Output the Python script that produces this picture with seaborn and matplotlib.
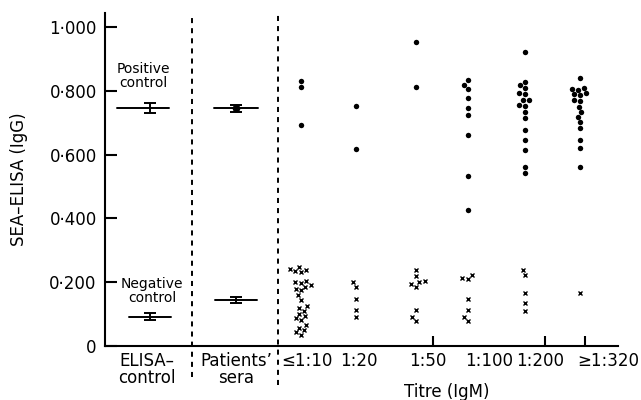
import matplotlib
matplotlib.use("Agg")
import matplotlib.pyplot as plt
import pandas as pd
import seaborn as sns

# titre groups (IgM) and their SEA-ELISA (IgG) values
titres = ["\u22641:10", "1:20", "1:50", "1:100", "1:200", "\u22651:320"]

positive_sera = {
    "\u22641:10": [0.830, 0.812, 0.692],
    "1:20": [0.752, 0.619],
    "1:50": [0.952, 0.811],
    "1:100": [0.833, 0.818, 0.805, 0.776, 0.745, 0.725, 0.662, 0.532, 0.426],
    "1:200": [0.923, 0.829, 0.818, 0.808, 0.792, 0.790, 0.771, 0.770, 0.755,
              0.754, 0.734, 0.714, 0.677, 0.646, 0.614, 0.562, 0.541],
    "\u22651:320": [0.839, 0.808, 0.806, 0.804, 0.792, 0.790, 0.788, 0.771, 0.769,
                    0.750, 0.734, 0.719, 0.703, 0.682, 0.646, 0.620, 0.562],
}
negative_sera = {
    "\u22641:10": [0.248, 0.242, 0.238, 0.235, 0.232, 0.205, 0.200, 0.196, 0.190,
                   0.186, 0.180, 0.175, 0.160, 0.145, 0.125, 0.118, 0.110, 0.100,
                   0.093, 0.087, 0.080, 0.066, 0.058, 0.050, 0.044, 0.036],
    "1:20": [0.200, 0.186, 0.146, 0.113, 0.090],
    "1:50": [0.238, 0.220, 0.205, 0.200, 0.195, 0.186, 0.113, 0.090, 0.078],
    "1:100": [0.222, 0.212, 0.209, 0.146, 0.113, 0.090, 0.078],
    "1:200": [0.238, 0.222, 0.166, 0.134, 0.110],
    "\u22651:320": [0.165],
}

# control means and errors
control_names = ["ELISA\u2013\ncontrol", "Patients\u2019\nsera"]
control_pos_mean = [0.745, 0.745]
control_pos_err = [0.016, 0.012]
control_neg_mean = [0.092, 0.145]
control_neg_err = [0.010, 0.009]

y_ticks = [0, 0.2, 0.4, 0.6, 0.8, 1.0]
y_tick_labels = ["0", "0\u00b7200", "0\u00b7400", "0\u00b7600", "0\u00b7800", "1\u00b7000"]

# layout (x axis in pixel-like units)
column_x = [301, 356, 416, 468, 525, 580]
label_x = [307, 359, 428, 489, 540, 608]
titre_tick_x = [359, 433, 489, 545, 585]
control_x = [150, 236]
separator_x = [192, 278]

rows = []
for name, xpos in zip(titres, column_x):
    for v in positive_sera[name]:
        rows.append({"x": xpos, "value": v, "kind": "positive"})
    for v in negative_sera[name]:
        rows.append({"x": xpos, "value": v, "kind": "negative"})
df = pd.DataFrame(rows)

sns.set_style("ticks")
plt.rcParams["font.family"] = ["DejaVu Sans"]
plt.rcParams["text.color"] = "black"
plt.rcParams["axes.labelcolor"] = "black"

fig = plt.figure(figsize=(6.41, 4.0), dpi=100)
ax = fig.add_axes([105 / 641, 1 - 346 / 400, 513 / 641, 333.3 / 400])

sns.swarmplot(data=df[df.kind == "positive"], x="x", y="value", native_scale=True,
              orient="x", color="black", size=3.9, linewidth=0, ax=ax)
sns.swarmplot(data=df[df.kind == "negative"], x="x", y="value", native_scale=True,
              orient="x", color="black", marker="x", size=2.9, linewidth=1.0, ax=ax)

# control means with error bars
for cx, m, e, half in zip(control_x, control_pos_mean, control_pos_err, [26, 22]):
    shift = -7 if cx == control_x[0] else 0
    ax.plot([cx + shift - half, cx + shift + half], [m, m], color="black", lw=1.4)
    ax.errorbar(cx, m, yerr=e, fmt="none", ecolor="black", elinewidth=1.4,
                capsize=4, capthick=1.4)
ax.plot(control_x[1], control_pos_mean[1], "o", color="black", ms=4.5)
for cx, m, e in zip(control_x, control_neg_mean, control_neg_err):
    ax.plot([cx - 21, cx + 21], [m, m], color="black", lw=1.4)
    ax.errorbar(cx, m, yerr=e, fmt="none", ecolor="black", elinewidth=1.4,
                capsize=4, capthick=1.4)

ax.text(143, 0.845, "Positive\ncontrol", ha="center", va="center", fontsize=10,
        linespacing=1.0, color="black")
ax.text(152, 0.172, "Negative\ncontrol", ha="center", va="center", fontsize=10,
        linespacing=1.0, color="black")

# dashed separators running below the axis
for sx, low in zip(separator_x, [-0.097, -0.122]):
    ax.plot([sx, sx], [low, 1.045], color="black", lw=1.4, dashes=(2.6, 2.6),
            clip_on=False)

ax.set_xlim(105, 618)
ax.set_ylim(0, 1.045)
sns.despine(ax=ax)
for sp in ["left", "bottom"]:
    ax.spines[sp].set_linewidth(1.5)
    ax.spines[sp].set_color("black")

ax.set_yticks(y_ticks)
ax.set_yticklabels(y_tick_labels)
ax.tick_params(axis="y", direction="in", length=8.5, width=1.5, labelsize=12,
               pad=6, colors="black")
ax.set_xticks([147, control_x[1]] + label_x)
ax.set_xticks(titre_tick_x, minor=True)
ax.set_xticklabels(control_names + titres, linespacing=0.95)
ax.tick_params(axis="x", which="major", length=0, labelsize=12, pad=4, colors="black")
ax.tick_params(axis="x", which="minor", direction="in", length=7, width=1.5,
               colors="black")
ax.set_xlabel("")
ax.set_ylabel("")

ax.text(447, -0.138, "Titre (IgM)", transform=ax.get_xaxis_transform(),
        ha="center", va="center", fontsize=12, color="black")
fig.text(19 / 641, 1 - 179 / 400, "SEA\u2013ELISA (IgG)", rotation=90,
         ha="center", va="center", fontsize=12, color="black")

fig.savefig("out.png", dpi=100)
